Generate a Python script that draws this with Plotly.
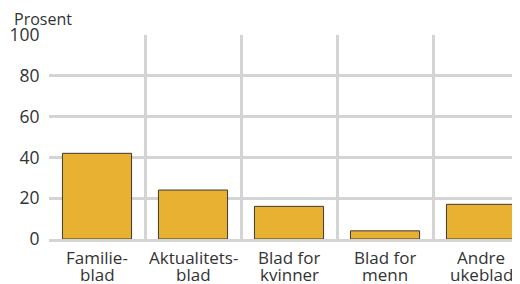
import plotly.graph_objects as go

categories = ["Familie-\nblad", "Aktualitets-\nblad", "Blad for\nkvinner", "Blad for\nmenn", "Andre\nukeblad"]
values = [42, 24, 16, 4, 17]
y_ticks = [0, 20, 40, 60, 80, 100]

x_idx = list(range(len(categories)))
boundaries = [i + 0.5 for i in x_idx]

FONT = "Open Sans"
GRID = "#d4d4d4"
TEXT = "#333333"

fig = go.Figure(go.Bar(
    x=x_idx, y=values, width=0.72,
    marker=dict(color="#e8b131", line=dict(color="#3c3a35", width=1)),
))

annotations = []
for i, cat in enumerate(categories):
    for j, line in enumerate(cat.split("\n")):
        annotations.append(dict(
            text=line, x=i, xref="x", y=0, yref="paper",
            yshift=-18 - 16.7 * j, yanchor="middle", xanchor="center",
            height=16, showarrow=False, font=dict(family=FONT, size=17, color=TEXT),
        ))
annotations.append(dict(
    text="Prosent", xref="paper", yref="paper", x=0, y=1, xshift=-37, yshift=16,
    xanchor="left", yanchor="middle", showarrow=False,
    font=dict(family=FONT, size=16, color=TEXT),
))

# page body has an 8px margin: the figure is offset by 8px right and down
fig.update_layout(
    width=512, height=276,
    margin=dict(l=41, r=0, t=27, b=45),
    paper_bgcolor="white", plot_bgcolor="white",
    showlegend=False,
    font=dict(family=FONT, size=17, color=TEXT),
    xaxis=dict(
        range=[-0.5, 4.406], automargin=False,
        tickmode="array", tickvals=x_idx, showticklabels=False,
        showgrid=False, zeroline=False,
        showline=True, linecolor=GRID, linewidth=3,
        minor=dict(tickmode="array", tickvals=[-0.5] + boundaries, showgrid=True, gridcolor=GRID, gridwidth=2.5),
    ),
    yaxis=dict(
        range=[0, 100], automargin=False,
        tickmode="array", tickvals=y_ticks,
        showgrid=True, gridcolor=GRID, gridwidth=2.5,
        zeroline=False,
        ticks="outside", ticklen=5, tickcolor="rgba(0,0,0,0)",
        tickfont=dict(size=17.5, color=TEXT),
    ),
    annotations=annotations,
)

fig.write_html("out.html")
